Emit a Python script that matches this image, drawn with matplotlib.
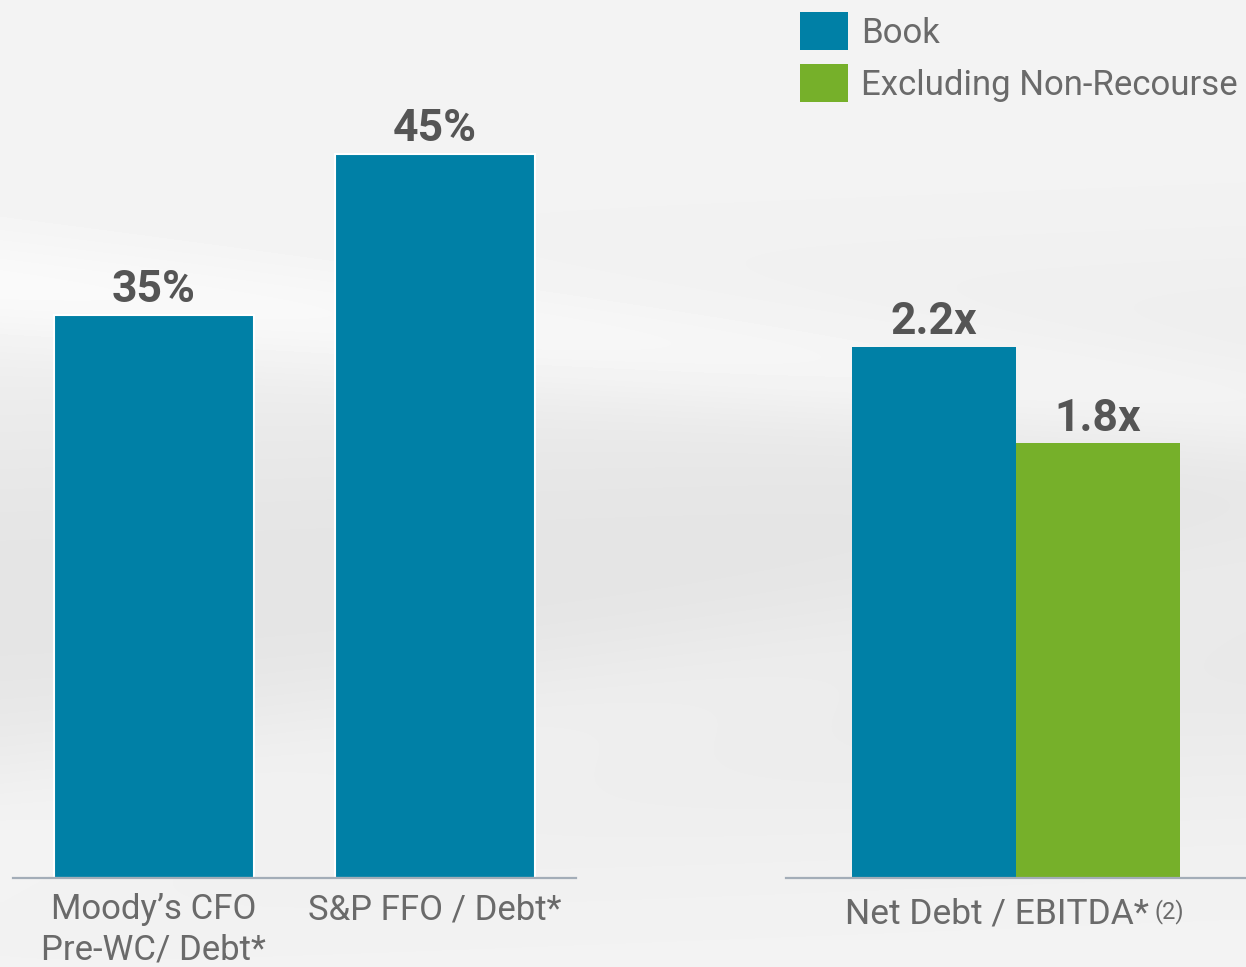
import matplotlib.pyplot as plt
from matplotlib.patches import Patch
import numpy as np

# chart data
left_categories = ["Moody\u2019s CFO\nPre-WC/ Debt*", "S&P FFO / Debt*"]
left_values = [35, 45]
left_labels = ["35%", "45%"]

right_category = "Net Debt / EBITDA*"
right_note = "(2)"
series_names = ["Book", "Excluding Non-Recourse"]
right_values = [2.2, 1.8]
right_labels = ["2.2x", "1.8x"]

BLUE = "#0080a6"
GREEN = "#76b02a"
TEXT = "#6a6a6a"
VALUE = "#555555"
AXIS = "#a3adb8"

plt.rcParams['font.family'] = ['Roboto', 'DejaVu Sans']

W, H = 1246, 967
fig = plt.figure(figsize=(W / 100, H / 100), dpi=100)

# soft grey backdrop with light swooshes
bg = fig.add_axes([0, 0, 1, 1], zorder=-10)
yy, xx = np.mgrid[0:1:300j, 0:1:300j]
shade = (0.955
         - 0.06 * np.exp(-((yy - 0.62 + 0.05 * xx) / 0.25) ** 2)
         + 0.035 * np.exp(-((yy - 0.30 - 0.12 * xx) / 0.06) ** 2)
         + 0.02 * np.exp(-((yy - 0.85 + 0.25 * xx) / 0.08) ** 2))
bg.imshow(np.clip(shade, 0, 1), cmap='gray', vmin=0, vmax=1,
          extent=[0, 1, 0, 1], aspect='auto', interpolation='bicubic')
bg.axis('off')

base = (H - 878) / H
height = 878 / H
CAT_SIZE = 25


def style(ax):
    ax.set_facecolor('none')
    for s in ['top', 'right', 'left']:
        ax.spines[s].set_visible(False)
    ax.spines['bottom'].set_color(AXIS)
    ax.spines['bottom'].set_linewidth(1.6)
    ax.set_yticks([])
    ax.tick_params(axis='x', length=0, pad=11, labelsize=CAT_SIZE, labelcolor=TEXT)


# left panel: coverage ratios
ax1 = fig.add_axes([13 / W, base, 563 / W, height])
style(ax1)
x1 = np.arange(len(left_values))
ax1.bar(x1, left_values, width=0.71, color=BLUE, edgecolor='white', linewidth=1.5)
ax1.set_xlim(-0.5, 1.5)
ax1.set_ylim(0, 54.57)
ax1.set_xticks(x1)
ax1.set_xticklabels(left_categories, linespacing=1.26)
for x, v, lbl in zip(x1, left_values, left_labels):
    ax1.annotate(lbl, (x, v), xytext=(0, 9), textcoords='offset points',
                 ha='center', va='baseline', fontsize=32, fontweight='bold', color=VALUE)

# right panel: leverage
ax2 = fig.add_axes([786 / W, base, 460 / W, height])
style(ax2)
x2 = np.array([-0.5, 0.5])
bars = ax2.bar(x2, right_values, width=1.0, color=[BLUE, GREEN], linewidth=0)
ax2.set_xlim(-1.402, 1.402)
ax2.set_ylim(0, 3.637)
ax2.set_xticks([])
for x, v, lbl in zip(x2, right_values, right_labels):
    ax2.annotate(lbl, (x, v), xytext=(0, 9), textcoords='offset points',
                 ha='center', va='baseline', fontsize=32, fontweight='bold', color=VALUE)
cat = ax2.annotate(right_category, (0, 0), xytext=(-14, -14), textcoords='offset points',
                   ha='center', va='top', fontsize=25.5, color=TEXT)
ax2.annotate(right_note, (1, 1), xycoords=cat, xytext=(4, -1), textcoords='offset points',
             ha='left', va='top', fontsize=17, color=TEXT)

handles = [Patch(facecolor=BLUE), Patch(facecolor=GREEN)]
fig.legend(handles, series_names, loc='upper left', bbox_to_anchor=(800 / W, 1 - 12 / H),
           frameon=False, prop={'size': CAT_SIZE}, labelcolor=TEXT,
           handlelength=1.38, handleheight=1.3, handletextpad=0.38, labelspacing=0.42,
           borderpad=0, borderaxespad=0)

fig.savefig("out.png", dpi=100)
